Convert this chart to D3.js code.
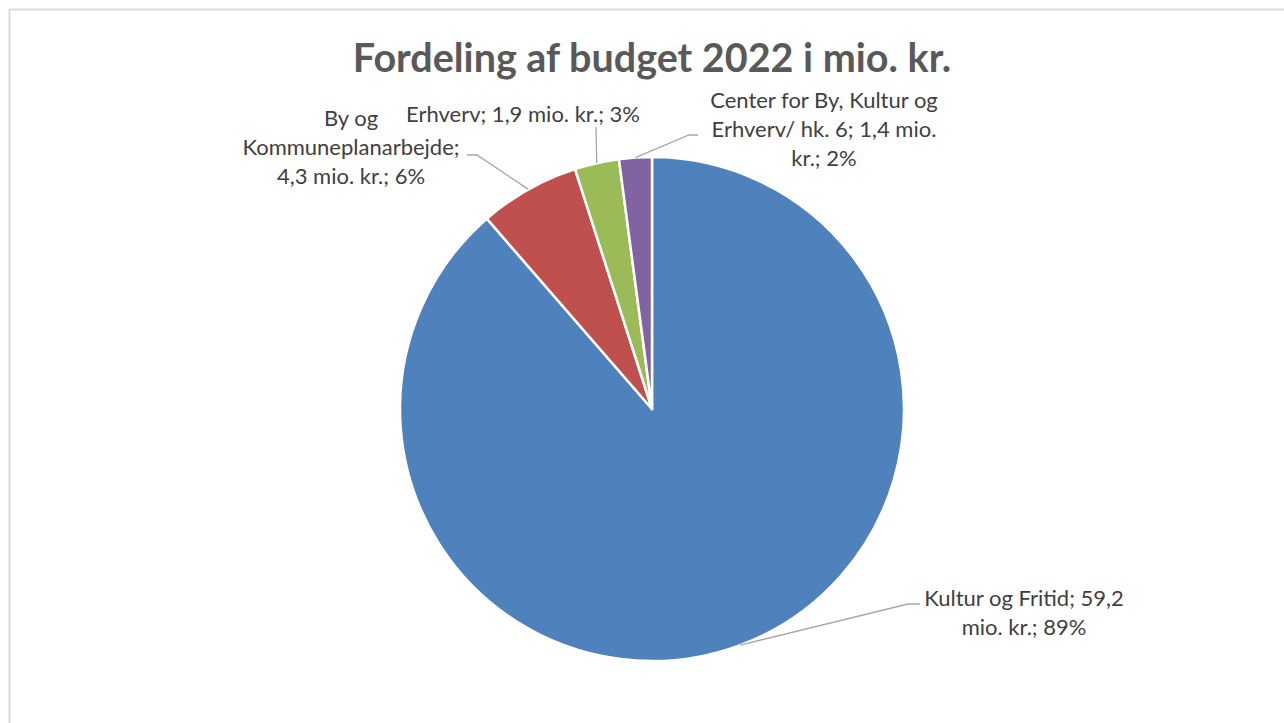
<!DOCTYPE html>
<html>
<head>
<meta charset="utf-8">
<script src="https://cdn.jsdelivr.net/npm/d3@7"></script>
<style>
  body { margin: 0; background: #fff; }
  text { font-family: Lato, "Open Sans", sans-serif; fill: #595959; }
  .label { fill: #404040; font-size: 22px; }
</style>
</head>
<body>
<div id="chart"></div>
<script>
// data
var categories = ["Kultur og Fritid", "By og Kommuneplanarbejde", "Erhverv", "Center for By, Kultur og Erhverv/ hk. 6"];
var values = [59.2, 4.3, 1.9, 1.4];
var percentLabels = ["89%", "6%", "3%", "2%"];
var valueLabels = ["59,2", "4,3", "1,9", "1,4"];
var colors = ["#4f81bd", "#c0504d", "#9bbb59", "#8064a2"];

var width = 1284, height = 723;
var cx = 652, cy = 409, radius = 252;

// label lines, placed like the excel chart (centre x, first baseline)
var labelLayout = [
    { lines: ["Kultur og Fritid; 59,2", "mio. kr.; 89%"], x: 1024, y: 606, elbow: [[908, 604], [920, 604]] },
    { lines: ["By og", "Kommuneplanarbejde;", "4,3 mio. kr.; 6%"], x: 351, y: 126, elbow: [[477, 155], [467, 155]] },
    { lines: ["Erhverv; 1,9 mio. kr.; 3%"], x: 523, y: 122, elbow: [[596, 127]] },
    { lines: ["Center for By, Kultur og", "Erhverv/ hk. 6; 1,4 mio.", "kr.; 2%"], x: 824, y: 108, elbow: [[689, 135], [698, 135]] }
];

var svg = d3.select("#chart").append("svg")
    .attr("width", width)
    .attr("height", height);

// chart frame
svg.append("rect")
    .attr("x", 9.5)
    .attr("y", 9.5)
    .attr("width", width + 10)
    .attr("height", height + 10)
    .attr("fill", "#fff")
    .attr("stroke", "#d9d9d9")
    .attr("stroke-width", 2);

svg.append("text")
    .attr("x", cx)
    .attr("y", 72)
    .attr("text-anchor", "middle")
    .style("font-size", "39.5px")
    .style("font-weight", "bold")
    .text("Fordeling af budget 2022 i mio. kr.");

var pie = d3.pie().sort(null).value(function(d) { return d; });
var arcs = pie(values);

var arc = d3.arc().innerRadius(0).outerRadius(radius);

var g = svg.append("g").attr("transform", "translate(" + cx + "," + cy + ")");

g.selectAll("path")
    .data(arcs)
    .enter()
    .append("path")
    .attr("d", arc)
    .attr("fill", function(d, i) { return colors[i]; })
    .attr("stroke", "#fff")
    .attr("stroke-width", 2.5)
    .attr("stroke-linejoin", "round");

// leader lines from the slice edge
arcs.forEach(function(d, i) {
    var mid = (d.startAngle + d.endAngle) / 2;
    var start = [cx + radius * Math.sin(mid), cy - radius * Math.cos(mid)];
    var pts = [start].concat(labelLayout[i].elbow);
    svg.append("path")
        .attr("d", d3.line()(pts))
        .attr("fill", "none")
        .attr("stroke", "#a6a6a6")
        .attr("stroke-width", 1.3);
});

labelLayout.forEach(function(l, i) {
    var t = svg.append("text")
        .attr("class", "label")
        .attr("text-anchor", "middle");
    l.lines.forEach(function(line, j) {
        t.append("tspan")
            .attr("x", l.x)
            .attr("y", l.y + j * 29)
            .text(line);
    });
});
</script>
</body>
</html>
